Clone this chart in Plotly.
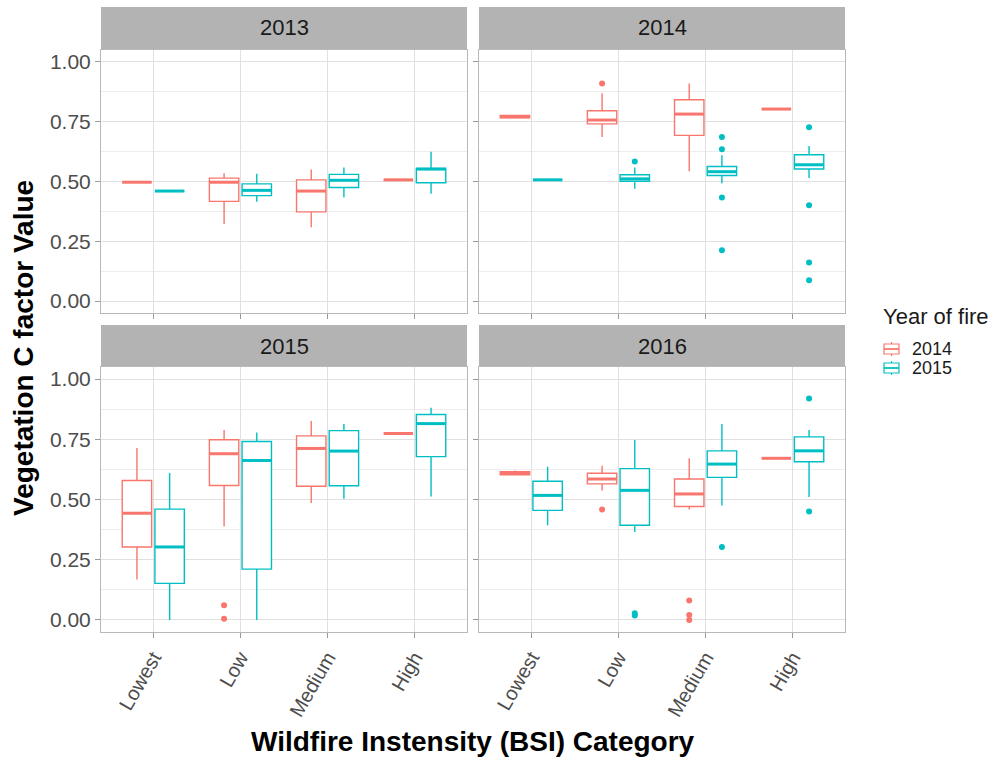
import plotly.graph_objects as go

# ---- data ---------------------------------------------------------------
panels = ["2013", "2014", "2015", "2016"]
categories = ["Lowest", "Low", "Medium", "High"]
fire_years = ["2014", "2015"]

# Box statistics: one row per panel, one value per category
fire2014_q1 = [
    [0.497, 0.417, 0.373, 0.507],
    [0.766, 0.741, 0.693, 0.803],
    [0.303, 0.558, 0.555, 0.774],
    [0.603, 0.565, 0.471, 0.671],
]
fire2014_median = [
    [0.497, 0.497, 0.460, 0.507],
    [0.771, 0.757, 0.782, 0.803],
    [0.443, 0.690, 0.712, 0.774],
    [0.610, 0.585, 0.523, 0.671],
]
fire2014_q3 = [
    [0.497, 0.514, 0.507, 0.507],
    [0.776, 0.796, 0.842, 0.803],
    [0.579, 0.748, 0.764, 0.774],
    [0.615, 0.609, 0.585, 0.671],
]
fire2014_lower = [
    [0.497, 0.322, 0.309, 0.507],
    [0.766, 0.686, 0.543, 0.803],
    [0.168, 0.388, 0.485, 0.774],
    [0.600, 0.537, 0.459, 0.671],
]
fire2014_upper = [
    [0.497, 0.534, 0.550, 0.507],
    [0.776, 0.869, 0.910, 0.803],
    [0.714, 0.788, 0.826, 0.774],
    [0.620, 0.640, 0.671, 0.671],
]

fire2015_q1 = [
    [0.460, 0.441, 0.475, 0.495],
    [0.507, 0.501, 0.525, 0.552],
    [0.152, 0.211, 0.557, 0.678],
    [0.455, 0.393, 0.592, 0.657],
]
fire2015_median = [
    [0.460, 0.463, 0.505, 0.552],
    [0.507, 0.511, 0.541, 0.570],
    [0.303, 0.662, 0.701, 0.815],
    [0.517, 0.538, 0.647, 0.702],
]
fire2015_q3 = [
    [0.460, 0.490, 0.530, 0.555],
    [0.507, 0.528, 0.563, 0.612],
    [0.460, 0.741, 0.786, 0.853],
    [0.576, 0.628, 0.702, 0.760],
]
fire2015_lower = [
    [0.460, 0.415, 0.433, 0.449],
    [0.507, 0.470, 0.493, 0.515],
    [0.000, 0.000, 0.503, 0.512],
    [0.393, 0.365, 0.475, 0.510],
]
fire2015_upper = [
    [0.460, 0.532, 0.559, 0.624],
    [0.507, 0.559, 0.610, 0.649],
    [0.610, 0.778, 0.813, 0.881],
    [0.636, 0.747, 0.813, 0.789],
]

# Outlying points: (panel, category, value)
fire2014_outliers = [
    ("2014", "Low", 0.910),
    ("2015", "Low", 0.061), ("2015", "Low", 0.005),
    ("2016", "Low", 0.459),
    ("2016", "Medium", 0.081), ("2016", "Medium", 0.021), ("2016", "Medium", 0.000),
]
fire2015_outliers = [
    ("2014", "Low", 0.584),
    ("2014", "Medium", 0.686), ("2014", "Medium", 0.635),
    ("2014", "Medium", 0.433), ("2014", "Medium", 0.212),
    ("2014", "High", 0.727), ("2014", "High", 0.401),
    ("2014", "High", 0.161), ("2014", "High", 0.087),
    ("2016", "Low", 0.028), ("2016", "Low", 0.018),
    ("2016", "Medium", 0.303),
    ("2016", "High", 0.919), ("2016", "High", 0.450),
]

y_ticks = [0.0, 0.25, 0.5, 0.75, 1.0]
y_ticktext = ["0.00", "0.25", "0.50", "0.75", "1.00"]

# ---- styling --------------------------------------------------------------
W, H = 995, 761
colors = {"2014": "#F8766D", "2015": "#00BFC4"}
stats = {
    "2014": (fire2014_q1, fire2014_median, fire2014_q3, fire2014_lower, fire2014_upper, fire2014_outliers),
    "2015": (fire2015_q1, fire2015_median, fire2015_q3, fire2015_lower, fire2015_upper, fire2015_outliers),
}
dodge = {"2014": -0.1875, "2015": 0.1875}
box_w = 0.3375
FONT = "Liberation Sans, Arial, sans-serif"
grid_major = "#e0e0e0"
grid_minor = "#ededed"
border = "#b8b8b8"
strip_fill = "#b3b3b3"
tick_col = "#4d4d4d"

# panel pixel boxes
col_px = [(101, 467), (479, 845)]
row_px = [(50, 313), (367, 632)]
strip_px = [(7, 49), (325, 367)]


def px_x(v):
    return v / W


def px_y(v):
    return 1 - v / H


fig = go.Figure()
layout = {}
shapes = []
annotations = []

for p, panel in enumerate(panels):
    r, c = divmod(p, 2)
    suffix = "" if p == 0 else str(p + 1)
    xa, ya = "x" + suffix, "y" + suffix
    xl, xr = col_px[c]
    yt, yb = row_px[r]

    layout["xaxis" + suffix] = dict(
        domain=[px_x(xl), px_x(xr)], anchor=ya, range=[0.4, 4.6],
        tickmode="array", tickvals=[1, 2, 3, 4], ticktext=categories,
        showticklabels=(r == 1), tickangle=-60,
        tickfont=dict(family=FONT, size=20, color=tick_col),
        ticks="outside", ticklen=5, tickcolor="#999999",
        showgrid=True, gridcolor=grid_major, gridwidth=1,
        zeroline=False, showline=True, linecolor=border, linewidth=1, mirror=True,
        fixedrange=True,
    )
    layout["yaxis" + suffix] = dict(
        domain=[px_y(yb), px_y(yt)], anchor=xa, range=[-0.05, 1.05],
        tickmode="array", tickvals=y_ticks, ticktext=y_ticktext,
        showticklabels=(c == 0),
        tickfont=dict(family=FONT, size=21, color=tick_col),
        ticks="outside", ticklen=5, tickcolor="#999999",
        showgrid=True, gridcolor=grid_major, gridwidth=1,
        minor=dict(tickmode="array", tickvals=[0.125, 0.375, 0.625, 0.875],
                   showgrid=True, gridcolor=grid_minor, gridwidth=1, ticks=""),
        zeroline=False, showline=True, linecolor=border, linewidth=1, mirror=True,
        fixedrange=True,
    )

    # facet strip
    st, sb = strip_px[r]
    shapes.append(dict(type="rect", xref="paper", yref="paper",
                       x0=px_x(xl), x1=px_x(xr), y0=px_y(sb), y1=px_y(st),
                       fillcolor=strip_fill, line=dict(width=0), layer="below"))
    annotations.append(dict(xref="paper", yref="paper", x=px_x((xl + xr) / 2),
                            y=px_y((st + sb) / 2), text=panel, showarrow=False,
                            font=dict(family=FONT, size=22, color="#1a1a1a"),
                            xanchor="center", yanchor="middle"))

    for fy in fire_years:
        q1, med, q3, lo, hi, outl = stats[fy]
        col = colors[fy]
        for k, cat in enumerate(categories):
            xpos = k + 1 + dodge[fy]
            fig.add_trace(go.Box(
                x=[xpos], q1=[q1[p][k]], median=[med[p][k]], q3=[q3[p][k]],
                lowerfence=[lo[p][k]], upperfence=[hi[p][k]],
                width=box_w, whiskerwidth=0, boxpoints=False,
                line=dict(color=col, width=1.4), fillcolor="white",
                name=fy, showlegend=False,
                xaxis=xa, yaxis=ya, hoverinfo="skip",
            ))
            # heavier median bar
            fig.add_trace(go.Scatter(
                x=[xpos - box_w / 2, xpos + box_w / 2], y=[med[p][k], med[p][k]],
                mode="lines", line=dict(color=col, width=3),
                showlegend=False, xaxis=xa, yaxis=ya, hoverinfo="skip",
            ))
        ox = [categories.index(cat) + 1 + dodge[fy] for pn, cat, v in outl if pn == panel]
        oy = [v for pn, cat, v in outl if pn == panel]
        if ox:
            fig.add_trace(go.Scatter(
                x=ox, y=oy, mode="markers",
                marker=dict(color=col, size=6, line=dict(width=0)),
                showlegend=False, xaxis=xa, yaxis=ya, hoverinfo="skip",
            ))

# legend: title plus a small box glyph per fire year
annotations.append(dict(xref="paper", yref="paper", x=px_x(881), y=px_y(316),
                        text="Year of fire", showarrow=False,
                        font=dict(family=FONT, size=22, color="#1a1a1a"),
                        xanchor="left", yanchor="middle"))
for i, fy in enumerate(fire_years):
    cy = 349 + i * 19
    col = colors[fy]
    shapes.append(dict(type="rect", xref="paper", yref="paper",
                       x0=px_x(884), x1=px_x(899), y0=px_y(cy + 5), y1=px_y(cy - 5),
                       fillcolor="white", line=dict(color=col, width=1.2)))
    shapes.append(dict(type="line", xref="paper", yref="paper",
                       x0=px_x(884), x1=px_x(899), y0=px_y(cy), y1=px_y(cy),
                       line=dict(color=col, width=1.8)))
    for y0, y1 in ((cy - 7, cy - 5), (cy + 5, cy + 7)):
        shapes.append(dict(type="line", xref="paper", yref="paper",
                           x0=px_x(891.5), x1=px_x(891.5), y0=px_y(y0), y1=px_y(y1),
                           line=dict(color=col, width=1.2)))
    annotations.append(dict(xref="paper", yref="paper", x=px_x(910), y=px_y(cy),
                            text=fy, showarrow=False,
                            font=dict(family=FONT, size=18, color="#1a1a1a"),
                            xanchor="left", yanchor="middle"))

# axis titles
annotations.append(dict(xref="paper", yref="paper", x=px_x(473), y=px_y(741),
                        text="<b>Wildfire Instensity (BSI) Category</b>", showarrow=False,
                        font=dict(family=FONT, size=28, color="black"),
                        xanchor="center", yanchor="middle"))
annotations.append(dict(xref="paper", yref="paper", x=px_x(23), y=px_y(348),
                        text="<b>Vegetation C factor Value</b>", showarrow=False,
                        textangle=-90,
                        font=dict(family=FONT, size=28, color="black"),
                        xanchor="center", yanchor="middle"))

fig.update_layout(
    width=W, height=H,
    margin=dict(l=0, r=0, t=0, b=0),
    paper_bgcolor="white", plot_bgcolor="white",
    boxmode="overlay", showlegend=False,
    shapes=shapes, annotations=annotations,
    **layout,
)

fig.write_html("out.html")
